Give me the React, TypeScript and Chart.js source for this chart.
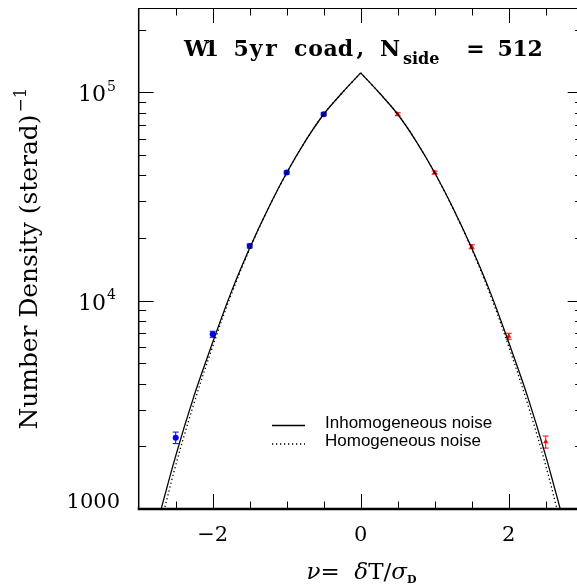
import React, { useEffect, useRef } from "react";
import { Chart, registerables } from "chart.js";

Chart.register(...registerables);

// ---- data ----
const NU_CURVE = [-2.75, -2.5, -2.25, -2, -1.75, -1.5, -1.25, -1, -0.75, -0.5, -0.25, 0, 0.25, 0.5, 0.75, 1, 1.25, 1.5, 1.75, 2, 2.25, 2.5, 2.75];
const INHOMOGENEOUS = [850, 1800, 3510, 6310, 10990, 17900, 27700, 41100, 58200, 78500, 99500, 124000, 99500, 78500, 58200, 41100, 27700, 17900, 10990, 6310, 3510, 1800, 850];
const HOMOGENEOUS = [725, 1620, 3240, 6030, 10700, 17700, 27600, 41000, 58200, 78500, 99500, 124000, 99500, 78500, 58200, 41000, 27600, 17700, 10700, 6030, 3240, 1620, 725];
const PEAK_INDEX = 11;

const NU_BLUE = [-2.5, -2, -1.5, -1, -0.5];
const BLUE_VALUES = [2200, 6900, 18300, 41200, 78500];
const BLUE_ERRORS = [140, 230, 400, 700, 1300];

const NU_RED = [0.5, 1, 1.5, 2, 2.5];
const RED_VALUES = [78500, 41200, 18150, 6750, 2100];
const RED_ERRORS = [1300, 700, 400, 225, 140];

const X_MAJOR_TICKS = [-2, 0, 2];
const X_MINOR_TICKS = [-2.5, -1.5, -1, -0.5, 0.5, 1, 1.5, 2.5];
const Y_MAJOR_TICKS = [1000, 10000, 100000];
const Y_MINOR_TICKS = [2000, 3000, 4000, 5000, 6000, 7000, 8000, 9000, 20000, 30000, 40000, 50000, 60000, 70000, 80000, 90000, 200000];
const X_TICK_LABELS = ["\u22122", "0", "2"];
const Y_TICK_LABELS = [["1000", ""], ["10", "4"], ["10", "5"]];

const TITLE_MAIN = "W1 5yr coad, N";
const TITLE_SUB = "side";
const TITLE_END = "= 512";
const Y_TITLE = "Number Density (sterad)";
const Y_TITLE_SUP = "\u22121";
const LEGEND_LABELS = ["Inhomogeneous noise", "Homogeneous noise"];

const X_MIN = -3;
const X_MAX = 3;
const Y_MIN = 1000;
const Y_MAX = 254000;

const CANVAS_W = 590;
const CANVAS_H = 586;

const SERIF = "'DejaVu Serif', serif";

// draw text as a typewriter line: one glyph centred in each fixed-width cell
function drawMono(ctx: CanvasRenderingContext2D, text: string, font: string, x0: number, cell: number, baseline: number) {
  ctx.font = font;
  ctx.textAlign = "center";
  for (let i = 0; i < text.length; i++) {
    const ch = text[i];
    if (ch !== " ") ctx.fillText(ch, x0 + (i + 0.5) * cell, baseline);
  }
  ctx.textAlign = "left";
}

const decorPlugin = {
  id: "decor",
  beforeDatasetsDraw(chart: any) {
    const ctx = chart.ctx as CanvasRenderingContext2D;
    const xs = chart.scales.x;
    const ys = chart.scales.y;
    ctx.save();
    const drawErr = (nus: number[], vals: number[], errs: number[], color: string) => {
      ctx.strokeStyle = color;
      ctx.lineWidth = 1;
      nus.forEach((nu, i) => {
        const px = xs.getPixelForValue(nu);
        const top = ys.getPixelForValue(vals[i] + errs[i]);
        const bot = ys.getPixelForValue(vals[i] - errs[i]);
        ctx.beginPath();
        ctx.moveTo(px, top);
        ctx.lineTo(px, bot);
        ctx.moveTo(px - 3, top);
        ctx.lineTo(px + 3, top);
        ctx.moveTo(px - 3, bot);
        ctx.lineTo(px + 3, bot);
        ctx.stroke();
      });
    };
    drawErr(NU_BLUE, BLUE_VALUES, BLUE_ERRORS, "#0000ff");
    drawErr(NU_RED, RED_VALUES, RED_ERRORS, "#ff0000");
    ctx.restore();
  },
  afterDraw(chart: any) {
    const ctx = chart.ctx as CanvasRenderingContext2D;
    const area = chart.chartArea;
    const xs = chart.scales.x;
    const ys = chart.scales.y;
    ctx.save();
    ctx.fillStyle = "#000";
    ctx.strokeStyle = "#000";

    // frame (right edge lies outside the visible window)
    ctx.lineWidth = 1.5;
    ctx.beginPath();
    ctx.moveTo(area.left, area.bottom);
    ctx.lineTo(area.left, area.top);
    ctx.stroke();
    ctx.lineWidth = 1;
    ctx.beginPath();
    ctx.moveTo(area.left, area.top + 0.5);
    ctx.lineTo(area.right, area.top + 0.5);
    ctx.stroke();
    ctx.lineWidth = 2.5;
    ctx.beginPath();
    ctx.moveTo(area.left - 1, area.bottom);
    ctx.lineTo(area.right, area.bottom);
    ctx.stroke();

    // ticks
    ctx.lineWidth = 1;
    const xTick = (v: number, len: number) => {
      const px = Math.round(xs.getPixelForValue(v)) + 0.5;
      ctx.beginPath();
      ctx.moveTo(px, area.bottom);
      ctx.lineTo(px, area.bottom - len);
      ctx.moveTo(px, area.top);
      ctx.lineTo(px, area.top + len);
      ctx.stroke();
    };
    X_MAJOR_TICKS.forEach((v) => xTick(v, 15));
    X_MINOR_TICKS.forEach((v) => xTick(v, 7.5));
    const yTick = (v: number, len: number) => {
      const py = Math.round(ys.getPixelForValue(v)) + 0.5;
      ctx.beginPath();
      ctx.moveTo(area.left, py);
      ctx.lineTo(area.left + len, py);
      ctx.moveTo(area.right, py);
      ctx.lineTo(area.right - len, py);
      ctx.stroke();
    };
    Y_MAJOR_TICKS.forEach((v) => yTick(v, 15));
    Y_MINOR_TICKS.forEach((v) => yTick(v, 7.5));

    // x tick labels
    ctx.font = `21px ${SERIF}`;
    ctx.textAlign = "center";
    ctx.textBaseline = "alphabetic";
    X_MAJOR_TICKS.forEach((v, i) => {
      ctx.fillText(X_TICK_LABELS[i], xs.getPixelForValue(v), 541);
    });

    // y tick labels
    ctx.textAlign = "right";
    Y_MAJOR_TICKS.forEach((v, i) => {
      const py = ys.getPixelForValue(v);
      const [main, sup] = Y_TICK_LABELS[i];
      if (!sup) {
        ctx.font = `21px ${SERIF}`;
        ctx.fillText(main, 120, Math.min(py + 8, area.bottom - 1));
      } else {
        ctx.font = `14px ${SERIF}`;
        const sw = ctx.measureText(sup).width;
        ctx.fillText(sup, 116, py - 1.5);
        ctx.font = `22px ${SERIF}`;
        ctx.fillText(main, 116 - sw - 1, py + 9);
      }
    });

    // y axis title (rotated), fitted to the reference length
    ctx.save();
    ctx.translate(37, (area.top + area.bottom) / 2);
    ctx.rotate(-Math.PI / 2);
    const targetLen = 342;
    ctx.font = `21px ${SERIF}`;
    const mw0 = ctx.measureText(Y_TITLE).width;
    ctx.font = `14px ${SERIF}`;
    const sw0 = ctx.measureText(Y_TITLE_SUP).width;
    const k = targetLen / (mw0 + 2 + sw0);
    const big = 21 * k;
    const small = 14 * k;
    ctx.textAlign = "left";
    ctx.font = `${big}px ${SERIF}`;
    const mw = ctx.measureText(Y_TITLE).width;
    ctx.fillText(Y_TITLE, -targetLen / 2, 0);
    ctx.font = `${small}px ${SERIF}`;
    ctx.fillText(Y_TITLE_SUP, -targetLen / 2 + mw + 2 * k, -0.45 * big);
    ctx.restore();

    // x axis title: nu= dT/sigma_D
    const parts: [string, string, number][] = [
      ["\u03bd", `italic 23px ${SERIF}`, 0],
      ["=  ", `23px ${SERIF}`, 0],
      ["\u03b4", `italic 23px ${SERIF}`, 0],
      ["T", `23px ${SERIF}`, 0],
      ["/", `23px ${SERIF}`, 0],
      ["\u03c3", `italic 23px ${SERIF}`, 0],
      ["D", `bold 11px ${SERIF}`, 4],
    ];
    let tw = 0;
    parts.forEach(([t, f]) => {
      ctx.font = f;
      tw += ctx.measureText(t).width;
    });
    let cx = 361.5 - tw / 2;
    ctx.textAlign = "left";
    parts.forEach(([t, f, dy]) => {
      ctx.font = f;
      ctx.fillText(t, cx, 579 + dy);
      cx += ctx.measureText(t).width;
    });

    // title in typewriter cells
    const cell = 14.9;
    drawMono(ctx, TITLE_MAIN, `bold 22px ${SERIF}`, 189, cell, 56);
    ctx.font = `bold 13px ${SERIF}`;
    const subW = ctx.measureText(TITLE_SUB).width;
    const subSize = Math.min(16, (13 * 40) / subW);
    ctx.font = `bold ${subSize}px ${SERIF}`;
    ctx.textAlign = "left";
    ctx.fillText(TITLE_SUB, 403, 64);
    drawMono(ctx, TITLE_END, `bold 22px ${SERIF}`, 542.5 - 5 * cell, cell, 56);

    // legend
    const ds = chart.data.datasets;
    const lineY = [425.5, 444];
    const textY = [428, 446];
    [0, 2].forEach((di, kk) => {
      const d = ds[di];
      ctx.strokeStyle = d.borderColor;
      ctx.lineWidth = d.borderWidth;
      ctx.setLineDash(d.borderDash || []);
      ctx.beginPath();
      ctx.moveTo(272, lineY[kk]);
      ctx.lineTo(305, lineY[kk]);
      ctx.stroke();
      ctx.setLineDash([]);
      ctx.font = `17px 'Liberation Sans', Arial, sans-serif`;
      ctx.textBaseline = "alphabetic";
      ctx.textAlign = "left";
      ctx.fillStyle = "#000";
      ctx.fillText(LEGEND_LABELS[kk], 325, textY[kk]);
    });
    ctx.restore();
  },
};

function half(values: number[], left: boolean) {
  return NU_CURVE.map((x, i) => ({ x, y: values[i] })).filter((_, i) => (left ? i <= PEAK_INDEX : i >= PEAK_INDEX));
}

export default function App() {
  const ref = useRef<HTMLCanvasElement | null>(null);
  useEffect(() => {
    const canvas = ref.current;
    if (!canvas) return;
    const solid = { showLine: true, borderColor: "#000000", borderWidth: 1.3, pointRadius: 0, fill: false, tension: 0.35 };
    const dotted = { ...solid, borderDash: [1.3, 2.7] };
    const chart = new Chart(canvas, {
      type: "scatter",
      data: {
        datasets: [
          { label: LEGEND_LABELS[0], data: half(INHOMOGENEOUS, true), ...solid },
          { label: LEGEND_LABELS[0] + " (right)", data: half(INHOMOGENEOUS, false), ...solid },
          { label: LEGEND_LABELS[1], data: half(HOMOGENEOUS, true), ...dotted },
          { label: LEGEND_LABELS[1] + " (right)", data: half(HOMOGENEOUS, false), ...dotted },
          {
            label: "blue",
            data: NU_BLUE.map((x, i) => ({ x, y: BLUE_VALUES[i] })),
            pointStyle: "circle",
            pointRadius: 3,
            backgroundColor: "#0000ff",
            borderColor: "#0000ff",
            borderWidth: 0,
          },
          {
            label: "red",
            data: NU_RED.map((x, i) => ({ x, y: RED_VALUES[i] })),
            pointStyle: "triangle",
            pointRadius: 3,
            backgroundColor: "#ff0000",
            borderColor: "#ff0000",
            borderWidth: 0,
          },
        ],
      } as any,
      options: {
        animation: false,
        responsive: false,
        maintainAspectRatio: false,
        events: [],
        layout: {
          padding: { left: 138.7, top: 8, right: CANVAS_W - 582.7, bottom: CANVAS_H - 509 },
        },
        plugins: {
          legend: { display: false },
          tooltip: { enabled: false },
          title: { display: false },
        },
        scales: {
          x: { type: "linear", min: X_MIN, max: X_MAX, display: false },
          y: { type: "logarithmic", min: Y_MIN, max: Y_MAX, display: false },
        },
      } as any,
      plugins: [decorPlugin],
    });
    return () => chart.destroy();
  }, []);
  return (
    <div style={{ position: "fixed", left: 0, top: 0, width: CANVAS_W, height: CANVAS_H, background: "#fff" }}>
      <canvas ref={ref} width={CANVAS_W} height={CANVAS_H} style={{ display: "block", width: CANVAS_W, height: CANVAS_H }} />
    </div>
  );
}
